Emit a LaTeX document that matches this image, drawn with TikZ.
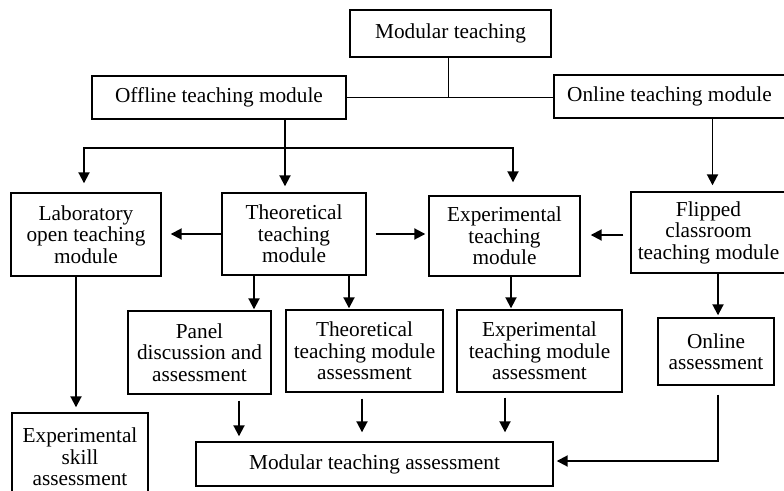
\documentclass[tikz,border=0pt]{standalone}
\usepackage{fontspec}
\setmainfont{Liberation Serif}
\usetikzlibrary{arrows.meta}

\begin{document}
\begin{tikzpicture}[x=1pt,y=-1pt,
  every node/.style={font=\fontsize{21.3}{21.5}\selectfont},
  box/.style={draw,line width=1.4pt,align=center,inner sep=0pt},
  link/.style={line width=1.4pt},
  arr/.style={line width=1.9pt,-{Triangle[length=11pt,width=11pt]}}]
\useasboundingbox (0,0) rectangle (784,490);
% top level
\node[box,minimum width=201pt,minimum height=47pt] (mod) at (450.5,33.5) {Modular teaching};
\node[box,minimum width=254pt,minimum height=43pt] (off) at (219,97.5) {Offline teaching module};
\node[box,minimum width=231pt,minimum height=43pt] (onl) at (669.5,96.5) {Online teaching module};
% modules
\node[box,minimum width=150pt,minimum height=83pt] (lab) at (86,234.5) {Laboratory\\open teaching\\module};
\node[box,minimum width=144pt,minimum height=82pt] (theo) at (294,234) {Theoretical\\teaching\\module};
\node[box,minimum width=151pt,minimum height=80pt] (exp) at (504.5,236) {Experimental\\teaching\\module};
\node[box,minimum width=155pt,minimum height=81pt] (flip) at (708.5,232.5) {Flipped\\classroom\\teaching module};
% assessments
\node[box,minimum width=143pt,minimum height=83pt] (panel) at (199.5,352.5) {Panel\\discussion and\\assessment};
\node[box,minimum width=157pt,minimum height=82pt] (tass) at (364.5,351) {Theoretical\\teaching module\\assessment};
\node[box,minimum width=165pt,minimum height=82pt] (eass) at (539.5,351) {Experimental\\teaching module\\assessment};
\node[box,minimum width=116pt,minimum height=67pt] (oass) at (716,351.5) {Online\\assessment};
\node[box,minimum width=136pt,minimum height=88pt] (skill) at (80,457) {Experimental\\skill\\assessment};
\node[box,minimum width=357pt,minimum height=44pt] (final) at (374.5,464) {Modular teaching assessment};
% connectors
\draw[link] ([xshift=-2pt]mod.south) -- ([xshift=-2pt]mod.south |- off.east);
\draw[link] (off.east) -- (off.east -| onl.west);
\coordinate (split) at (285,148);
\draw[link] (off.south -| split) -- (split);
\draw[arr,shorten >=9pt] (split) -| ([xshift=-2pt]lab.north);
\draw[arr,shorten >=13pt] (split) -| ([xshift=8.5pt]exp.north);
\draw[arr,shorten >=6pt] (split) -- (split |- theo.north);
\draw[arr,shorten >=6pt] ([xshift=4pt]flip.north |- onl.south) -- ([xshift=4pt]flip.north);
\draw[arr,shorten >=9pt] (theo.west) -- (theo.west -| lab.east);
\draw[arr,shorten <=9pt,shorten >=3pt] (theo.east) -- (theo.east -| exp.west);
\draw[arr,shorten <=7pt,shorten >=10pt] ([yshift=-2.5pt]flip.west) -- ([yshift=-2.5pt]flip.west -| exp.east);
\draw[arr,shorten >=1pt] ([xshift=-40pt]theo.south) -- ([xshift=-40pt]theo.south |- panel.north);
\draw[arr,shorten >=1pt] ([xshift=55pt]theo.south) -- ([xshift=55pt]theo.south |- tass.north);
\draw[arr,shorten >=1pt] ([xshift=6.5pt]exp.south) -- ([xshift=6.5pt]exp.south |- eass.north);
\draw[arr,shorten >=2pt] ([xshift=9.5pt]flip.south) -- ([xshift=9.5pt]flip.south |- oass.north);
\draw[arr,shorten >=5pt] ([xshift=-10pt]lab.south) -- ([xshift=-10pt]lab.south |- skill.north);
\draw[arr,shorten <=6pt,shorten >=5pt] ([xshift=39.5pt]panel.south) -- ([xshift=39.5pt]panel.south |- final.north);
\draw[arr,shorten <=6pt,shorten >=9pt] ([xshift=-2.5pt]tass.south) -- ([xshift=-2.5pt]tass.south |- final.north);
\draw[arr,shorten <=5pt,shorten >=9pt] ([xshift=-34.5pt]eass.south) -- ([xshift=-34.5pt]eass.south |- final.north);
\draw[arr,shorten <=9pt,shorten >=3pt] ([xshift=2pt]oass.south) |- ([yshift=3pt]final.east);
\end{tikzpicture}
\end{document}
